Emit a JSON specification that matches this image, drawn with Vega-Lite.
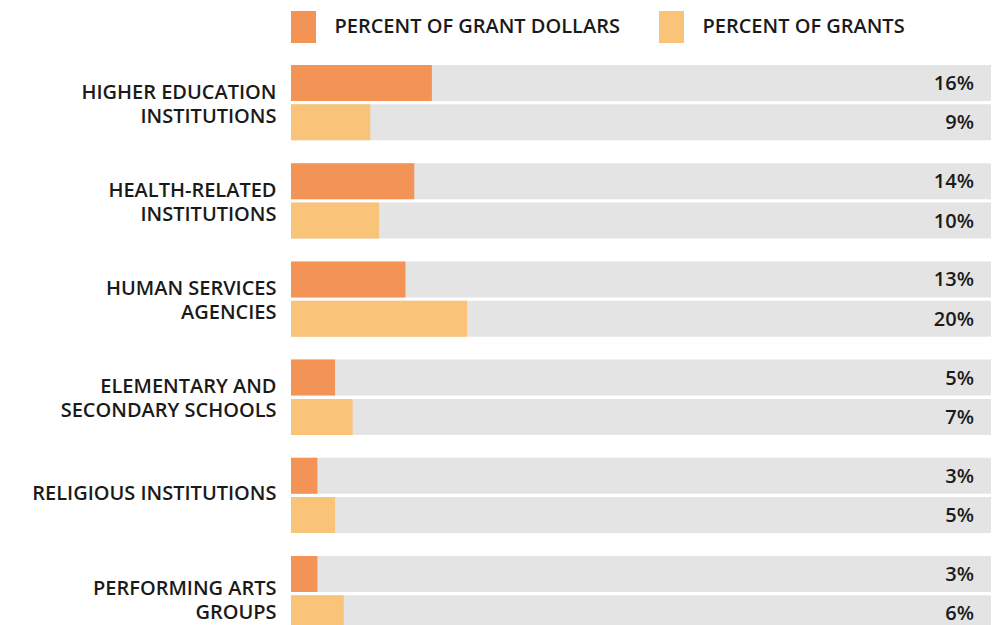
{
  "$schema": "https://vega.github.io/schema/vega-lite/v6.json",
  "width": 700,
  "height": 566.3,
  "autosize": {"type": "none"},
  "padding": {"left": 291, "top": 65, "right": 7, "bottom": 0},
  "background": "white",
  "config": {
    "view": {"stroke": null},
    "font": "Open Sans"
  },
  "data": {
    "values": [
      {"cat": "HIGHER EDUCATION|INSTITUTIONS", "series": "PERCENT OF GRANT DOLLARS", "value": 0.16},
      {"cat": "HIGHER EDUCATION|INSTITUTIONS", "series": "PERCENT OF GRANTS", "value": 0.09},
      {"cat": "HEALTH-RELATED|INSTITUTIONS", "series": "PERCENT OF GRANT DOLLARS", "value": 0.14},
      {"cat": "HEALTH-RELATED|INSTITUTIONS", "series": "PERCENT OF GRANTS", "value": 0.10},
      {"cat": "HUMAN SERVICES|AGENCIES", "series": "PERCENT OF GRANT DOLLARS", "value": 0.13},
      {"cat": "HUMAN SERVICES|AGENCIES", "series": "PERCENT OF GRANTS", "value": 0.20},
      {"cat": "ELEMENTARY AND|SECONDARY SCHOOLS", "series": "PERCENT OF GRANT DOLLARS", "value": 0.05},
      {"cat": "ELEMENTARY AND|SECONDARY SCHOOLS", "series": "PERCENT OF GRANTS", "value": 0.07},
      {"cat": "RELIGIOUS INSTITUTIONS", "series": "PERCENT OF GRANT DOLLARS", "value": 0.03},
      {"cat": "RELIGIOUS INSTITUTIONS", "series": "PERCENT OF GRANTS", "value": 0.05},
      {"cat": "PERFORMING ARTS|GROUPS", "series": "PERCENT OF GRANT DOLLARS", "value": 0.03},
      {"cat": "PERFORMING ARTS|GROUPS", "series": "PERCENT OF GRANTS", "value": 0.06}
    ]
  },
  "encoding": {
    "y": {
      "field": "cat",
      "type": "nominal",
      "sort": null,
      "scale": {"paddingInner": 0.233, "paddingOuter": 0},
      "axis": {
        "title": null,
        "domain": false,
        "ticks": false,
        "labelPadding": 15,
        "labelFontSize": 20,
        "labelFontWeight": 600,
        "labelColor": "#1a1a1a",
        "labelLineHeight": 24,
        "labelLimit": 400,
        "labelOffset": {
          "condition": [
            {"test": "indexof(datum.value, 'PERFORMING') >= 0", "value": -5},
            {"test": "indexof(datum.value, '|') >= 0", "value": -10}
          ],
          "value": -1
        },
        "labelExpr": "split(datum.value, '|')"
      }
    },
    "yOffset": {
      "field": "series",
      "type": "nominal",
      "scale": {"paddingInner": 0.084, "paddingOuter": 0}
    }
  },
  "layer": [
    {
      "mark": {"type": "bar", "color": "#e4e4e4"},
      "encoding": {
        "x": {"datum": 0.795, "type": "quantitative", "scale": {"domain": [0, 0.795]}, "axis": null}
      }
    },
    {
      "mark": {"type": "bar"},
      "encoding": {
        "x": {"field": "value", "type": "quantitative", "scale": {"domain": [0, 0.795]}, "axis": null},
        "color": {
          "field": "series",
          "type": "nominal",
          "scale": {"domain": ["PERCENT OF GRANT DOLLARS", "PERCENT OF GRANTS"], "range": ["#f39355", "#f9c37a"]},
          "legend": {
            "title": null,
            "orient": "none",
            "direction": "horizontal",
            "legendX": -3.5,
            "legendY": -54,
            "symbolType": "M-0.78,-1H0.78V1H-0.78Z",
            "symbolSize": 1024,
            "symbolOpacity": 1,
            "symbolStrokeWidth": 0,
            "labelFontSize": 20,
            "labelFontWeight": 600,
            "labelColor": "#1a1a1a",
            "labelOffset": 15,
            "columnPadding": 35,
            "labelLimit": 400
          }
        }
      }
    },
    {
      "mark": {"type": "text", "align": "right", "dx": -17, "dy": 1, "fontSize": 20, "fontWeight": 600, "color": "#1a1a1a"},
      "encoding": {
        "x": {"datum": 0.795, "type": "quantitative", "scale": {"domain": [0, 0.795]}},
        "text": {"field": "value", "type": "quantitative", "format": ".0%"}
      }
    }
  ]
}
